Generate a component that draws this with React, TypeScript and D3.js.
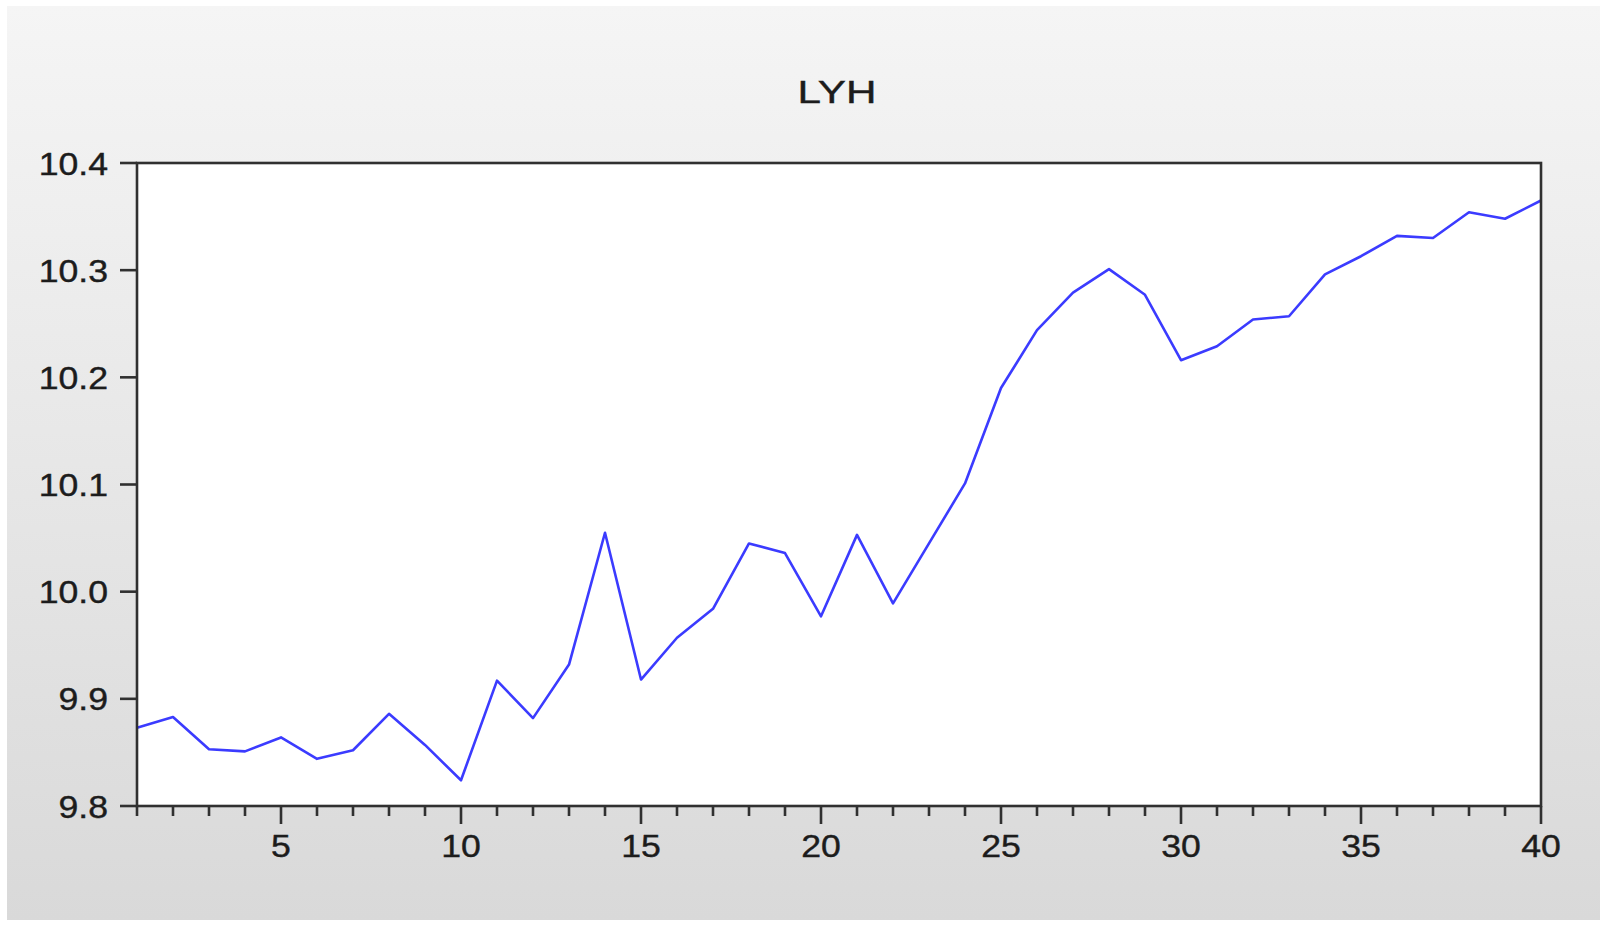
import { useEffect, useRef } from "react";
import * as d3 from "d3";

// LYH series, observations 1..40
const periods = d3.range(1, 41);
const lyh = [
  9.873, 9.883, 9.853, 9.851, 9.864, 9.844, 9.852, 9.886, 9.857, 9.824,
  9.917, 9.882, 9.932, 10.055, 9.918, 9.957, 9.984, 10.045, 10.036, 9.977,
  10.053, 9.989, 10.045, 10.101, 10.19, 10.244, 10.279, 10.301, 10.277, 10.216,
  10.229, 10.254, 10.257, 10.296, 10.313, 10.332, 10.33, 10.354, 10.348, 10.365,
];
const yTicks = [9.8, 9.9, 10.0, 10.1, 10.2, 10.3, 10.4];
const xLabelTicks = [5, 10, 15, 20, 25, 30, 35, 40];
const title = "LYH";

export default function App() {
  const svgRef = useRef<SVGSVGElement>(null);

  useEffect(() => {
    if (!svgRef.current) return;
    const svg = d3.select(svgRef.current);
    svg.selectAll("*").remove();

    const W = 1607;
    const H = 928;
    const plot = { left: 137, right: 1541, top: 163, bottom: 806 };
    const font = "'Liberation Sans', Arial, sans-serif";
    const textColor = "#1c1c1c";
    const stretch = 1.15;
    const axisColor = "#303030";

    // background panel gradient
    const defs = svg.append("defs");
    const grad = defs
      .append("linearGradient")
      .attr("id", "bg")
      .attr("x1", 0)
      .attr("y1", 0)
      .attr("x2", 0)
      .attr("y2", 1);
    grad.append("stop").attr("offset", "0%").attr("stop-color", "#f5f5f5");
    grad.append("stop").attr("offset", "100%").attr("stop-color", "#d9d9d9");

    svg.append("rect").attr("width", W).attr("height", H).attr("fill", "#fff");
    svg
      .append("rect")
      .attr("x", 7)
      .attr("y", 6)
      .attr("width", 1593)
      .attr("height", 914)
      .attr("fill", "url(#bg)");

    const x = d3.scaleLinear().domain([1, 40]).range([plot.left, plot.right]);
    const y = d3.scaleLinear().domain([9.8, 10.4]).range([plot.bottom, plot.top]);

    // plot area
    svg
      .append("rect")
      .attr("x", plot.left)
      .attr("y", plot.top)
      .attr("width", plot.right - plot.left)
      .attr("height", plot.bottom - plot.top)
      .attr("fill", "#fff");

    // title
    svg
      .append("text")
      .attr("x", 837)
      .attr("y", 103)
      .attr("text-anchor", "middle")
      .attr("font-family", font)
      .attr("font-size", 31)
      .attr("fill", textColor)
      .attr("stroke", textColor)
      .attr("stroke-width", 0.4)
      .attr("textLength", 79)
      .attr("lengthAdjust", "spacingAndGlyphs")
      .text(title);

    // y ticks + labels
    const yAxis = svg.append("g");
    yTicks.forEach((t) => {
      yAxis
        .append("line")
        .attr("x1", plot.left - 17)
        .attr("x2", plot.left)
        .attr("y1", y(t))
        .attr("y2", y(t))
        .attr("stroke", axisColor)
        .attr("stroke-width", 2.6);
      yAxis
        .append("text")
        .attr("transform", `translate(108,${y(t) + 11.5}) scale(${stretch},1)`)
        .attr("text-anchor", "end")
        .attr("font-family", font)
        .attr("font-size", 31)
        .attr("fill", textColor)
        .attr("stroke", textColor)
        .attr("stroke-width", 0.4)
        .text(d3.format(".1f")(t));
    });

    // x ticks + labels
    const xAxis = svg.append("g");
    periods.forEach((p) => {
      const major = p % 5 === 0;
      xAxis
        .append("line")
        .attr("x1", x(p))
        .attr("x2", x(p))
        .attr("y1", plot.bottom)
        .attr("y2", plot.bottom + (major ? 18 : 10))
        .attr("stroke", axisColor)
        .attr("stroke-width", 2.6);
    });
    xLabelTicks.forEach((p) => {
      xAxis
        .append("text")
        .attr("transform", `translate(${x(p)},857) scale(${stretch},1)`)
        .attr("text-anchor", "middle")
        .attr("font-family", font)
        .attr("font-size", 31)
        .attr("fill", textColor)
        .attr("stroke", textColor)
        .attr("stroke-width", 0.4)
        .text(String(p));
    });

    // series line
    const line = d3
      .line<number>()
      .x((_, i) => x(periods[i]))
      .y((d) => y(d));
    svg
      .append("path")
      .datum(lyh)
      .attr("d", line)
      .attr("fill", "none")
      .attr("stroke", "#3b3bff")
      .attr("stroke-width", 2.6)
      .attr("stroke-linejoin", "round");

    // frame
    svg
      .append("rect")
      .attr("x", plot.left)
      .attr("y", plot.top)
      .attr("width", plot.right - plot.left)
      .attr("height", plot.bottom - plot.top)
      .attr("fill", "none")
      .attr("stroke", axisColor)
      .attr("stroke-width", 2.6);
  }, []);

  return (
    <svg
      ref={svgRef}
      width={1607}
      height={928}
      style={{ position: "absolute", left: 0, top: 0 }}
    ></svg>
  );
}
